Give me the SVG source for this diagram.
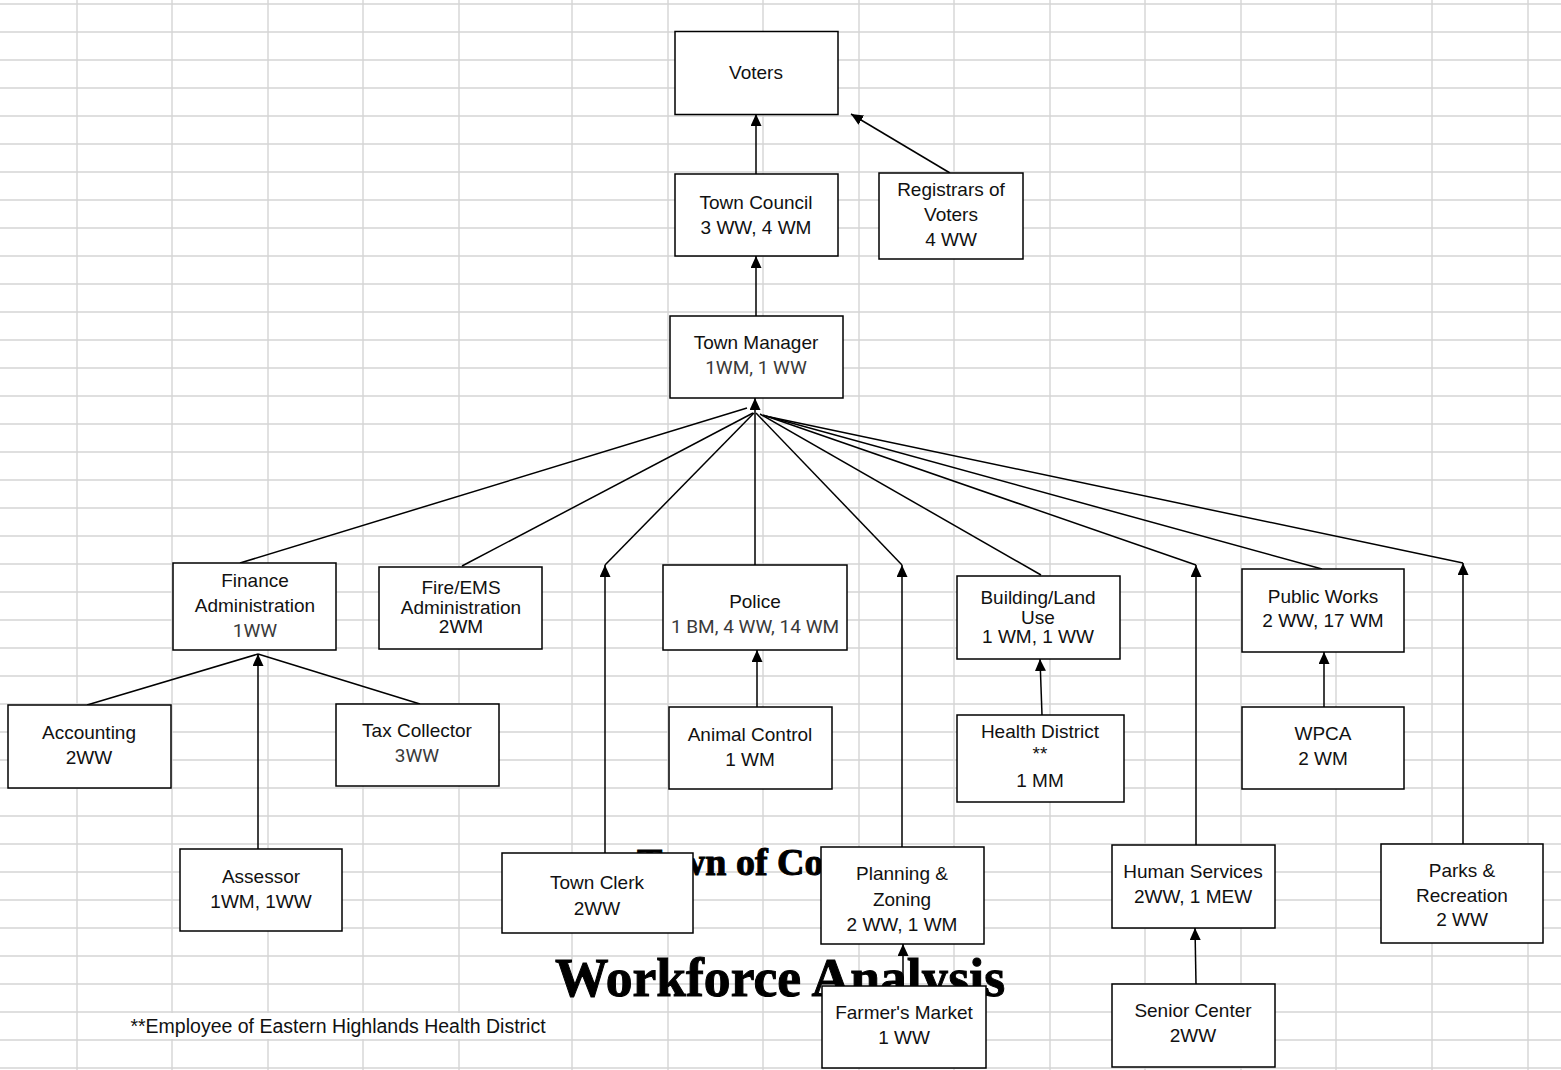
<svg xmlns="http://www.w3.org/2000/svg" width="1561" height="1070" viewBox="0 0 1561 1070">
<defs>
<style>
.grid line{stroke:#d4d4d4;stroke-width:1.4}
.box{fill:#fff;stroke:#000;stroke-width:1.5}
.t{font-family:"Liberation Sans",Arial,sans-serif;font-size:19px;fill:#111;text-anchor:middle}
.g{font-family:Roboto,"Liberation Sans",sans-serif;font-size:19px;fill:#3a3a3a;text-anchor:middle}
.title{font-family:"Liberation Serif","Times New Roman",serif;font-weight:bold;fill:#000;stroke:#000;stroke-width:1}
.c line,.c polyline{stroke:#000;stroke-width:1.5;fill:none}
.a{marker-end:url(#arr)}
</style>
<marker id="arr" markerUnits="userSpaceOnUse" markerWidth="13" markerHeight="12" refX="12" refY="5.5" orient="auto">
<path d="M0,0 L12,5.5 L0,11 z" fill="#000"/>
</marker>
</defs>
<rect width="1561" height="1070" fill="#fff"/>
<g class="grid" id="grid">
<line x1="0" y1="4" x2="1561" y2="4"/><line x1="0" y1="32" x2="1561" y2="32"/><line x1="0" y1="60" x2="1561" y2="60"/><line x1="0" y1="88" x2="1561" y2="88"/><line x1="0" y1="116" x2="1561" y2="116"/><line x1="0" y1="144" x2="1561" y2="144"/><line x1="0" y1="172" x2="1561" y2="172"/><line x1="0" y1="200" x2="1561" y2="200"/><line x1="0" y1="228" x2="1561" y2="228"/><line x1="0" y1="256" x2="1561" y2="256"/><line x1="0" y1="284" x2="1561" y2="284"/><line x1="0" y1="312" x2="1561" y2="312"/><line x1="0" y1="340" x2="1561" y2="340"/><line x1="0" y1="368" x2="1561" y2="368"/><line x1="0" y1="396" x2="1561" y2="396"/><line x1="0" y1="424" x2="1561" y2="424"/><line x1="0" y1="452" x2="1561" y2="452"/><line x1="0" y1="480" x2="1561" y2="480"/><line x1="0" y1="508" x2="1561" y2="508"/><line x1="0" y1="536" x2="1561" y2="536"/><line x1="0" y1="564" x2="1561" y2="564"/><line x1="0" y1="592" x2="1561" y2="592"/><line x1="0" y1="620" x2="1561" y2="620"/><line x1="0" y1="648" x2="1561" y2="648"/><line x1="0" y1="676" x2="1561" y2="676"/><line x1="0" y1="704" x2="1561" y2="704"/><line x1="0" y1="732" x2="1561" y2="732"/><line x1="0" y1="760" x2="1561" y2="760"/><line x1="0" y1="788" x2="1561" y2="788"/><line x1="0" y1="816" x2="1561" y2="816"/><line x1="0" y1="844" x2="1561" y2="844"/><line x1="0" y1="872" x2="1561" y2="872"/><line x1="0" y1="900" x2="1561" y2="900"/><line x1="0" y1="928" x2="1561" y2="928"/><line x1="0" y1="956" x2="1561" y2="956"/><line x1="0" y1="984" x2="1561" y2="984"/><line x1="0" y1="1012" x2="1561" y2="1012"/><line x1="0" y1="1040" x2="1561" y2="1040"/><line x1="0" y1="1068" x2="1561" y2="1068"/>
<line x1="77" y1="0" x2="77" y2="1070"/><line x1="172" y1="0" x2="172" y2="1070"/><line x1="268" y1="0" x2="268" y2="1070"/><line x1="363" y1="0" x2="363" y2="1070"/><line x1="459" y1="0" x2="459" y2="1070"/><line x1="572" y1="0" x2="572" y2="1070"/><line x1="668" y1="0" x2="668" y2="1070"/><line x1="763" y1="0" x2="763" y2="1070"/><line x1="859" y1="0" x2="859" y2="1070"/><line x1="954" y1="0" x2="954" y2="1070"/><line x1="1050" y1="0" x2="1050" y2="1070"/><line x1="1145" y1="0" x2="1145" y2="1070"/><line x1="1241" y1="0" x2="1241" y2="1070"/><line x1="1336" y1="0" x2="1336" y2="1070"/><line x1="1432" y1="0" x2="1432" y2="1070"/><line x1="1528" y1="0" x2="1528" y2="1070"/>
</g>
<g id="footnote">
<rect x="78" y="1013" width="493" height="26" fill="#fff"/>
<text x="338" y="1032.5" class="t" style="font-size:19.5px">**Employee of Eastern Highlands Health District</text>
</g>
<g id="titles">
<text x="637" y="875" class="title" font-size="38">Town of Co</text>
<text x="780" y="996" class="title" font-size="54" text-anchor="middle" textLength="450" lengthAdjust="spacingAndGlyphs">Workforce Analysis</text>
</g>
<g class="c" id="connectors">
<line class="a" x1="756" y1="174" x2="756" y2="114"/>
<line class="a" x1="950" y1="173" x2="851" y2="114"/>
<line class="a" x1="756" y1="316" x2="756" y2="256"/>
<line class="a" x1="755" y1="413" x2="755" y2="398"/>
<line x1="240" y1="563" x2="747" y2="408"/>
<line x1="462" y1="566" x2="753" y2="413"/>
<line x1="605" y1="565" x2="754" y2="413"/>
<line x1="755" y1="565" x2="755" y2="413"/>
<line x1="902" y1="565" x2="756" y2="413"/>
<line x1="1041" y1="575" x2="760" y2="414"/>
<line x1="1196" y1="565" x2="763" y2="415"/>
<line x1="1322" y1="569" x2="766" y2="416"/>
<line x1="1463" y1="563" x2="770" y2="417"/>
<line class="a" x1="605" y1="853" x2="605" y2="565"/>
<line class="a" x1="902" y1="847" x2="902" y2="565"/>
<line class="a" x1="1196" y1="845" x2="1196" y2="565"/>
<line class="a" x1="1463" y1="844" x2="1463" y2="563"/>
<line x1="87" y1="705" x2="258" y2="654"/>
<line x1="420" y1="704" x2="258" y2="654"/>
<line class="a" x1="258" y1="849" x2="258" y2="654"/>
<line class="a" x1="757" y1="707" x2="757" y2="650"/>
<line class="a" x1="1042" y1="715" x2="1040" y2="659"/>
<line class="a" x1="1324" y1="707" x2="1324" y2="652"/>
<line class="a" x1="1196" y1="984" x2="1195" y2="928"/>
<line class="a" x1="903" y1="986" x2="903" y2="944"/>
</g>
<g id="voters"><rect class="box" x="675" y="31.5" width="163" height="83"/><text class="t" x="756" y="79">Voters</text></g>
<g id="town-council"><rect class="box" x="675" y="174" width="163" height="82"/><text class="t" x="756" y="208.5">Town Council</text><text class="t" x="756" y="233.5">3 WW, 4 WM</text></g>
<g id="registrars"><rect class="box" x="879" y="173" width="144" height="86"/><text class="t" x="951" y="195.5">Registrars of</text><text class="t" x="951" y="220.5">Voters</text><text class="t" x="951" y="245.5">4 WW</text></g>
<g id="town-manager"><rect class="box" x="670" y="316" width="173" height="82"/><text class="t" x="756" y="348.5">Town Manager</text><text class="g" x="756" y="373.5">1WM, 1 WW</text></g>
<g id="finance"><rect class="box" x="173" y="563" width="163" height="87"/><text class="t" x="255" y="586.5">Finance</text><text class="t" x="255" y="611.5">Administration</text><text class="g" x="255" y="636.5">1WW</text></g>
<g id="fire-ems"><rect class="box" x="379" y="567" width="163" height="82"/><text class="t" x="461" y="593.5">Fire/EMS</text><text class="t" x="461" y="613.5">Administration</text><text class="t" x="461" y="632.5">2WM</text></g>
<g id="accounting"><rect class="box" x="8" y="705" width="163" height="83"/><text class="t" x="89" y="739">Accounting</text><text class="t" x="89" y="764">2WW</text></g>
<g id="tax-collector"><rect class="box" x="336" y="704" width="163" height="82"/><text class="t" x="417" y="736.5">Tax Collector</text><text class="g" x="417" y="761.5">3WW</text></g>
<g id="assessor"><rect class="box" x="180" y="849" width="162" height="82"/><text class="t" x="261" y="882.5">Assessor</text><text class="t" x="261" y="907.5">1WM, 1WW</text></g>
<g id="town-clerk"><rect class="box" x="502" y="853" width="191" height="80"/><text class="t" x="597" y="888.5">Town Clerk</text><text class="t" x="597" y="914.5">2WW</text></g>
<g id="police"><rect class="box" x="663" y="565" width="184" height="85"/><text class="t" x="755" y="608">Police</text><text class="g" x="755" y="632.5">1 BM, 4 WW, 14 WM</text></g>
<g id="animal-control"><rect class="box" x="669" y="707" width="163" height="82"/><text class="t" x="750" y="740.5">Animal Control</text><text class="t" x="750" y="765.5">1 WM</text></g>
<g id="planning"><rect class="box" x="821" y="847" width="163" height="97"/><text class="t" x="902" y="879.5">Planning &amp;</text><text class="t" x="902" y="906">Zoning</text><text class="t" x="902" y="930.5">2 WW, 1 WM</text></g>
<g id="farmers-market"><rect class="box" x="822" y="986" width="164" height="82"/><text class="t" x="904" y="1019">Farmer's Market</text><text class="t" x="904" y="1043.5">1 WW</text></g>
<g id="building"><rect class="box" x="957" y="576" width="163" height="83"/><text class="t" x="1038" y="603.5">Building/Land</text><text class="t" x="1038" y="623.5">Use</text><text class="t" x="1038" y="642.5">1 WM, 1 WW</text></g>
<g id="health"><rect class="box" x="957" y="715" width="167" height="87"/><text class="t" x="1040" y="738">Health District</text><text class="t" x="1040" y="760">**</text><text class="t" x="1040" y="787">1 MM</text></g>
<g id="public-works"><rect class="box" x="1242" y="569" width="162" height="83"/><text class="t" x="1323" y="603">Public Works</text><text class="t" x="1323" y="627">2 WW, 17 WM</text></g>
<g id="wpca"><rect class="box" x="1242" y="707" width="162" height="82"/><text class="t" x="1323" y="739.5">WPCA</text><text class="t" x="1323" y="765">2 WM</text></g>
<g id="human-services"><rect class="box" x="1112" y="845" width="163" height="83"/><text class="t" x="1193" y="878">Human Services</text><text class="t" x="1193" y="903">2WW, 1 MEW</text></g>
<g id="senior-center"><rect class="box" x="1112" y="984" width="163" height="83"/><text class="t" x="1193" y="1017">Senior Center</text><text class="t" x="1193" y="1042">2WW</text></g>
<g id="parks"><rect class="box" x="1381" y="844" width="162" height="99"/><text class="t" x="1462" y="877">Parks &amp;</text><text class="t" x="1462" y="902">Recreation</text><text class="t" x="1462" y="926">2 WW</text></g>
</svg>
